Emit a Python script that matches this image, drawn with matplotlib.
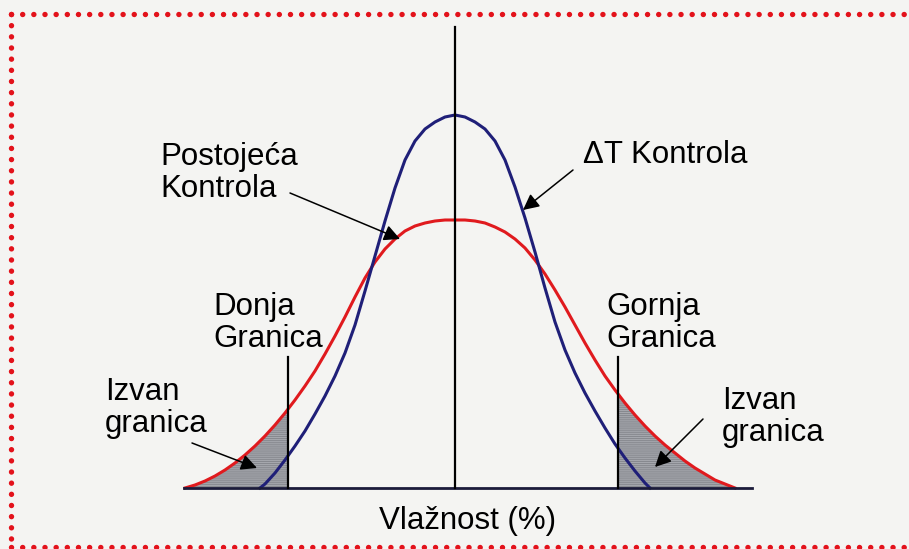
import matplotlib.pyplot as plt
import numpy as np
from matplotlib.patches import Rectangle

plt.rcParams['font.family'] = ['Liberation Sans', 'DejaVu Sans']
plt.rcParams['hatch.linewidth'] = 0.7

# horizontal position (offset from the mean) and curve height
blue_x = [-195, -190, -180, -170, -160, -150, -140, -130, -120, -110, -100, -90, -80, -70, -60, -50, -40, -30, -20, -10,
          0, 10, 20, 30, 40, 50, 60, 70, 80, 90, 100, 110, 120, 130, 140, 150, 160, 170, 180, 190, 195]
blue_y = [0, 4, 15, 28, 42, 57, 74, 92, 112, 135, 163, 197, 232, 267, 300, 328, 347, 359, 366, 371,
          373, 371, 366, 359, 347, 328, 301, 270, 236, 200, 166, 138, 115, 95, 77, 60, 44, 30, 17, 5, 0]

red_x = [-270, -260, -250, -240, -230, -220, -210, -200, -190, -180, -170, -160, -150, -140, -130, -120, -110, -100,
         -90, -80, -70, -60, -50, -40, -30, -20, -10, 0, 10, 20, 30, 40, 50, 60, 70, 80, 90, 100, 110, 120, 130,
         140, 150, 160, 170, 180, 190, 200, 210, 220, 230, 240, 250, 260, 270, 280]
red_y = [0, 3, 7, 12, 18, 25, 33, 42, 52, 63, 75, 88, 102, 117, 134, 152, 171, 191,
         210, 226, 239, 249, 257, 262, 265, 267, 268, 268, 268, 267, 265, 261, 256, 249, 240, 228, 214, 198, 181, 163, 145,
         128, 112, 98, 85, 73, 62, 52, 43, 35, 27, 20, 14, 8, 4, 0]

lower_limit = -167
upper_limit = 163
limit_height = 131
axis_height = 461

fig = plt.figure(figsize=(9.09, 5.49), dpi=100)
fig.patch.set_facecolor('#f4f4f2')
ax = fig.add_axes([0, 0, 1, 1])
ax.set_facecolor('#f4f4f2')
ax.set_xlim(-455, 454)
ax.set_ylim(-61, 488)
ax.axis('off')

red = '#e01a1e'
navy = '#1f1f78'

# shaded tails outside the limits (under the red curve)
for x0, x1 in [(-300, lower_limit), (upper_limit, 300)]:
    poly = ax.fill_between(red_x, red_y, 0, facecolor='#a5a7ad', edgecolor='#86888e',
                           hatch='--------', linewidth=0, zorder=1)
    poly.set_clip_path(Rectangle((x0, 0), x1 - x0, 400, transform=ax.transData))

ax.plot(red_x, red_y, color=red, lw=2.2, zorder=3, solid_joinstyle='round')
ax.plot(blue_x, blue_y, color=navy, lw=2.2, zorder=3, solid_joinstyle='round')

# axes of the diagram
ax.plot([-271, 297], [0, 0], color='#1b1b3a', lw=2, zorder=4)
ax.plot([0, 0], [0, axis_height], color='black', lw=1.6, zorder=4)
ax.plot([lower_limit, lower_limit], [0, limit_height], color='black', lw=1.6, zorder=4)
ax.plot([upper_limit, upper_limit], [0, limit_height], color='black', lw=1.6, zorder=4)

fs = 22.5
ax.text(-295, 315, 'Postojeća\nKontrola', fontsize=fs, ha='left', va='center', linespacing=1.1)
ax.text(128, 333, 'ΔT Kontrola', fontsize=fs, ha='left', va='center')
ax.text(-242, 165, 'Donja\nGranica', fontsize=fs, ha='left', va='center', linespacing=1.1)
ax.text(151, 165, 'Gornja\nGranica', fontsize=fs, ha='left', va='center', linespacing=1.1)
ax.text(-350, 80, 'Izvan\ngranica', fontsize=fs, ha='left', va='center', linespacing=1.1)
ax.text(267, 71, 'Izvan\ngranica', fontsize=fs, ha='left', va='center', linespacing=1.1)
ax.text(13, -33, 'Vlažnost (%)', fontsize=fs, ha='center', va='center')

arrow = dict(arrowstyle='-|>', color='black', lw=1.1, mutation_scale=24, shrinkA=0, shrinkB=0)
ax.annotate('', xy=(-55, 249), xytext=(-165, 295), arrowprops=arrow, zorder=5)
ax.annotate('', xy=(68, 278), xytext=(118, 318), arrowprops=arrow, zorder=5)
ax.annotate('', xy=(-198, 20), xytext=(-263, 45), arrowprops=arrow, zorder=5)
ax.annotate('', xy=(200, 21), xytext=(248, 69), arrowprops=arrow, zorder=5)

# red dotted frame
dots = dict(color='#e3121b', lw=3.9, linestyle=(0, (0.01, 2.05)), dash_capstyle='round', clip_on=False)
ax.plot([-444.5, 454], [474, 474], **dots)
ax.plot([-444.5, -444.5], [474, -59], **dots)
ax.plot([-444.5, 454], [-59, -59], **dots)

fig.savefig('out.png', dpi=100, facecolor=fig.get_facecolor())
